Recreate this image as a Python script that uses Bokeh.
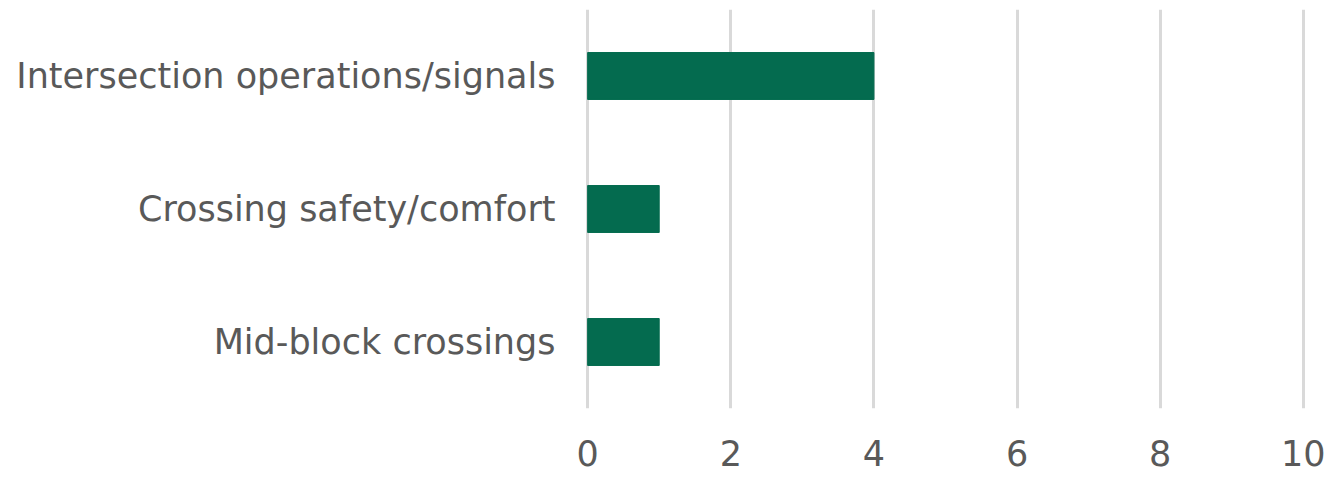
from bokeh.plotting import figure
from bokeh.models import Range1d, FactorRange, FixedTicker
from bokeh.embed import file_html
from bokeh.resources import INLINE

categories = ["Intersection operations/signals", "Crossing safety/comfort", "Mid-block crossings"]
counts = [4, 1, 1]
x_ticks = [0, 2, 4, 6, 8, 10]

FONT = "DejaVu Sans"
TEXT = "#595959"

p = figure(
    width=1338, height=484,
    y_range=FactorRange(factors=list(reversed(categories)), range_padding=0),
    x_range=Range1d(-0.03, 10.03),
    output_backend="svg", toolbar_location=None,
    min_border_left=585, min_border_right=33, min_border_top=9, min_border_bottom=76,
)
p.outline_line_color = None
p.hbar(y=categories, right=counts, left=0, height=0.353, color="#046B4F", line_color="#046B4F")

p.xaxis.ticker = FixedTicker(ticks=x_ticks)
p.xaxis.axis_line_color = None
p.xaxis.major_tick_line_color = None
p.xaxis.minor_tick_line_color = None
p.xaxis.major_label_text_font = FONT
p.xaxis.major_label_text_font_size = "35px"
p.xaxis.major_label_text_color = TEXT
p.xaxis.major_label_standoff = 25

p.yaxis.axis_line_color = None
p.yaxis.major_tick_line_color = None
p.yaxis.minor_tick_line_color = None
p.yaxis.major_label_text_font = FONT
p.yaxis.major_label_text_font_size = "35px"
p.yaxis.major_label_text_color = TEXT
p.yaxis.major_label_standoff = 24

p.xgrid.grid_line_color = "#D9D9D9"
p.xgrid.grid_line_width = 3
p.ygrid.grid_line_color = None

open("out.html", "w").write(file_html(p, INLINE))
